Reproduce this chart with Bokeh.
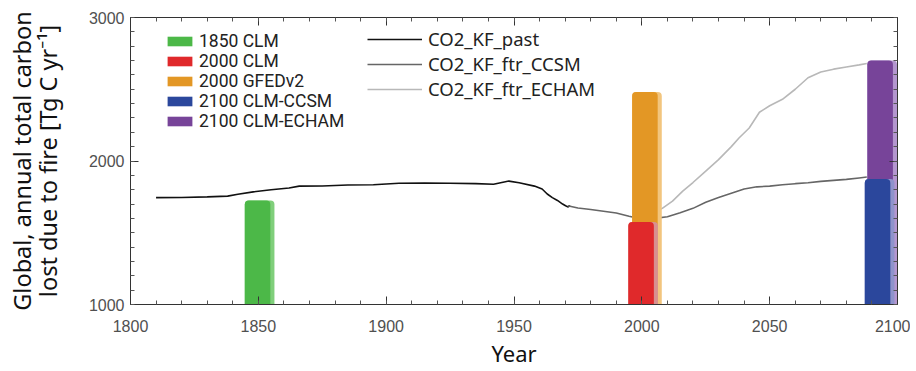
from bokeh.plotting import figure
from bokeh.models import Range1d, LinearAxis, Legend, LegendItem, FixedTicker
from bokeh.embed import file_html
from bokeh.resources import INLINE

# ---- data ----
past_years = [1810, 1820, 1830, 1838, 1842, 1848, 1855, 1862, 1866, 1875, 1885, 1895,
              1905, 1915, 1925, 1935, 1942, 1948, 1952, 1958, 1961, 1963, 1965, 1967,
              1969, 1970, 1971, 1972]
past_vals = [1745, 1746, 1750, 1755, 1768, 1785, 1800, 1812, 1825, 1826, 1833, 1835,
             1845, 1847, 1845, 1842, 1838, 1860, 1848, 1825, 1805, 1770, 1745, 1725,
             1700, 1690, 1680, 1688]

ccsm_years = [1971, 1975, 1980, 1985, 1990, 1995, 2000, 2005, 2010, 2015, 2020, 2025,
              2030, 2035, 2040, 2045, 2050, 2055, 2060, 2065, 2070, 2075, 2080, 2085, 2088]
ccsm_vals = [1688, 1672, 1662, 1650, 1638, 1615, 1595, 1600, 1612, 1640, 1670, 1712,
             1745, 1775, 1805, 1820, 1825, 1835, 1842, 1848, 1858, 1865, 1872, 1882, 1888]

echam_years = [2000, 2008, 2012, 2016, 2020, 2025, 2030, 2035, 2038, 2042, 2046, 2050,
               2055, 2060, 2065, 2070, 2075, 2080, 2085, 2088]
echam_vals = [1600, 1670, 1720, 1790, 1850, 1930, 2010, 2100, 2160, 2230, 2340, 2385,
              2430, 2500, 2580, 2620, 2640, 2655, 2670, 2680]

bar_labels = ["1850 CLM", "2000 CLM", "2000 GFEDv2", "2100 CLM-CCSM", "2100 CLM-ECHAM"]
bar_years = [1850.5, 2000.5, 2002.0, 2093.0, 2094.0]
bar_vals = [1725, 1575, 2480, 1875, 2700]
bar_colors = ["#4cb848", "#e0292b", "#e39725", "#2b479c", "#774499"]
bar_edge_colors = ["#80cf7b", "#d89090", "#f2c57e", "#8f93cc", "#b496cf"]
bar_draw_order = [0, 2, 1, 4, 3]

line_labels = ["CO2_KF_past", "CO2_KF_ftr_CCSM", "CO2_KF_ftr_ECHAM"]
line_colors = ["#111111", "#666666", "#b8b8b8"]

x_ticks = [1800, 1850, 1900, 1950, 2000, 2050, 2100]
y_ticks = [1000, 2000, 3000]

p = figure(width=910, height=370,
           x_range=Range1d(1800, 2100), y_range=Range1d(1000, 3000),
           output_backend="svg", toolbar_location=None,
           min_border_left=130, min_border_right=13, min_border_top=17,
           min_border_bottom=65)
p.grid.visible = False
p.outline_line_color = "#333333"
p.background_fill_color = "white"
p.border_fill_color = "white"

# lines
r_past = p.line(past_years, past_vals, line_color=line_colors[0], line_width=1.6)
r_echam = p.line(echam_years, echam_vals, line_color=line_colors[2], line_width=1.6)
r_ccsm = p.line(ccsm_years, ccsm_vals, line_color=line_colors[1], line_width=1.6)

# bars
base = p.y_range.start
bar_renderers = {}
for i in bar_draw_order:
    p.vbar(x=[bar_years[i]], width=11.6, top=[bar_vals[i]], bottom=base,
           fill_color=bar_edge_colors[i], line_color=None, border_radius=(4, 4, 0, 0))
    bar_renderers[i] = p.vbar(x=[bar_years[i] - 0.8], width=10.0, top=[bar_vals[i]],
                              bottom=base, fill_color=bar_colors[i], line_color=None,
                              border_radius=(4, 4, 0, 0))

# axes
font_ticks = "Liberation Sans"
def style_axis(ax, labels=True):
    ax.axis_line_color = "#333333"
    ax.major_tick_line_color = "#333333"
    ax.minor_tick_line_color = "#555555"
    ax.major_tick_in = 8
    ax.major_tick_out = 0
    ax.minor_tick_in = 4
    ax.minor_tick_out = 0
    if labels:
        ax.major_label_text_font = font_ticks
        ax.major_label_text_font_size = "16px"
        ax.major_label_text_color = "#505050"
    else:
        ax.major_label_text_font_size = "1px"
        ax.major_label_text_color = None
        ax.major_label_standoff = 0

xa = p.xaxis[0]
xa.ticker = FixedTicker(ticks=x_ticks, minor_ticks=list(range(1800, 2101, 10)))
style_axis(xa)
xa.major_label_standoff = 15
xa.axis_label = "Year"
xa.axis_label_text_font = "Noto Sans"
xa.axis_label_text_font_size = "22px"
xa.axis_label_text_font_style = "normal"
xa.axis_label_text_color = "#111111"
xa.axis_label_standoff = 3

ya = p.yaxis[0]
ya.ticker = FixedTicker(ticks=y_ticks, minor_ticks=list(range(1000, 3001, 100)))
style_axis(ya)
ya.major_label_standoff = 6
ya.axis_label = "Global, annual total carbon\nlost due to fire [Tg C yr\u207b\u00b9]"
ya.axis_label_text_font = "Noto Sans"
ya.axis_label_text_font_size = "23.5px"
ya.axis_label_text_font_style = "normal"
ya.axis_label_text_color = "#111111"
ya.axis_label_text_line_height = 0.8
ya.axis_label_standoff = 22

top_ax = LinearAxis(ticker=FixedTicker(ticks=x_ticks, minor_ticks=list(range(1800, 2101, 10))))
style_axis(top_ax, labels=False)
p.add_layout(top_ax, "above")
right_ax = LinearAxis(ticker=FixedTicker(ticks=y_ticks, minor_ticks=list(range(1000, 3001, 100))))
style_axis(right_ax, labels=False)
p.add_layout(right_ax, "right")

# legends
bar_items = [LegendItem(label=lab, renderers=[bar_renderers[i]])
             for i, lab in enumerate(bar_labels)]
leg1 = Legend(items=bar_items, location=(34, 173), padding=0, margin=0,
              border_line_color=None, background_fill_alpha=0,
              glyph_width=31, glyph_height=12, label_height=12, spacing=0,
              label_standoff=4, label_text_font="Roboto",
              label_text_font_size="17.5px", label_text_color="#222222")
p.add_layout(leg1)

leg2 = Legend(items=[LegendItem(label=line_labels[0], renderers=[r_past]),
                     LegendItem(label=line_labels[1], renderers=[r_ccsm]),
                     LegendItem(label=line_labels[2], renderers=[r_echam])],
              location=(237, 203), padding=0, margin=0,
              border_line_color=None, background_fill_alpha=0,
              glyph_width=55, glyph_height=16, label_height=16, spacing=0,
              label_standoff=6, label_text_font="Noto Sans",
              label_text_font_size="18.5px", label_text_color="#222222")
p.add_layout(leg2)

open("out.html", "w").write(file_html(p, INLINE))
